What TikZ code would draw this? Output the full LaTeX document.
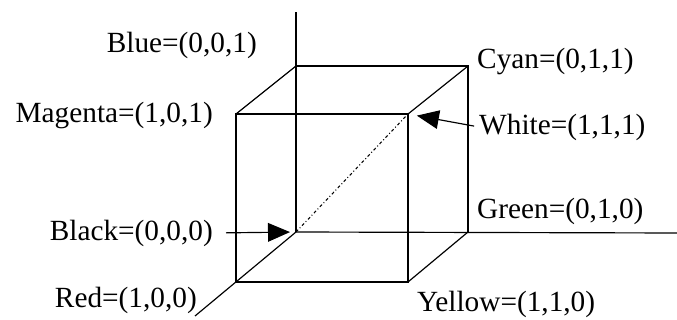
\documentclass[tikz,border=0pt]{standalone}
\usepackage{fontspec}
\setmainfont{Liberation Serif}
\usetikzlibrary{arrows.meta}

\begin{document}
\begin{tikzpicture}[
  x=0.03cm, y=-0.03cm,
  edge/.style={line width=1pt, draw=black},
  diag/.style={line width=0.9pt, draw=black, dash pattern=on 2.6pt off 2pt on 0.8pt off 2pt},
  ptr/.style={-{Triangle[length=0.66cm,width=0.56cm]}, line width=1pt},
  lbl/.style={font=\fontsize{25}{29}\selectfont, inner sep=0pt},
]
\useasboundingbox (0,0) rectangle (677,320);

% =========================== CUBE CORNERS ===========================
\coordinate (blk) at (296,232);
\coordinate (blu) at (296,66);
\coordinate (grn) at (468,232);
\coordinate (cyn) at (468,66);
\coordinate (red) at (236,282);
\coordinate (mag) at (236,114);
\coordinate (yel) at (408,282);
\coordinate (wht) at (408,114);
% axis ends
\coordinate (zEnd) at (296,12);
\coordinate (yEnd) at (677,233);
\coordinate (xEnd) at (195,316);

% axes
\draw[edge] (blk) -- (zEnd);
\draw[edge] (blk) -- (yEnd);
\draw[edge] (blk) -- (xEnd);

% back face
\draw[edge] (blu) -- (cyn) -- (grn);
% front face
\draw[edge] (mag) -- (wht) -- (yel) -- (red) -- cycle;
% depth edges
\draw[edge] (mag) -- (blu);
\draw[edge] (wht) -- (cyn);
\draw[edge] (yel) -- (grn);

% black -> white diagonal
\draw[diag] (blk) -- (wht);

% =========================== LABELS ===========================
\node[lbl, anchor=east] (lblu) at (257,45)  {Blue=(0,0,1)};
\node[lbl, anchor=west] (lcyn) at (477,62)  {Cyan=(0,1,1)};
\node[lbl, anchor=east] (lmag) at (213,116) {Magenta=(1,0,1)};
\node[lbl, anchor=west] (lwht) at (479,127) {White=(1,1,1)};
\node[lbl, anchor=east] (lblk) at (213,233) {Black=(0,0,0)};
\node[lbl, anchor=west] (lgrn) at (477,211) {Green=(0,1,0)};
\node[lbl, anchor=east] (lred) at (197,300) {Red=(1,0,0)};
\node[lbl, anchor=west] (lyel) at (417,304) {Yellow=(1,1,0)};

% pointers
\draw[ptr, shorten <=0.39cm, shorten >=0.18cm] (lblk.east) -- (blk);
\draw[ptr, shorten <=0.15cm, shorten >=0.27cm] (lwht.west) -- (wht);

\end{tikzpicture}
\end{document}
